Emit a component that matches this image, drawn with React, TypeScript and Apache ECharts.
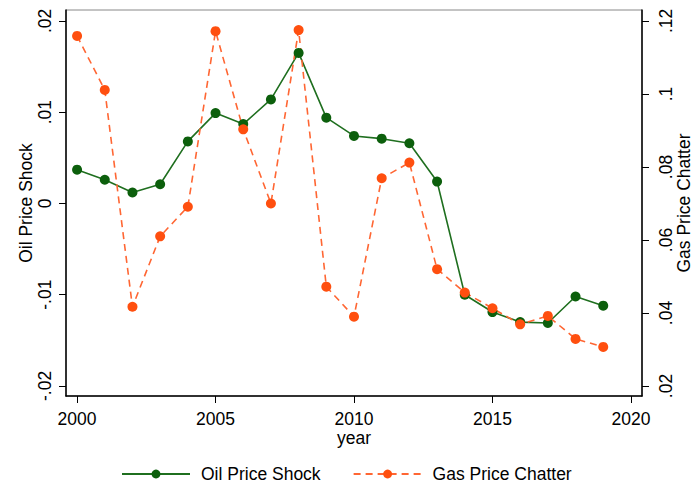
import React, { useEffect, useRef } from "react";
import * as echarts from "echarts";

const years = [2000, 2001, 2002, 2003, 2004, 2005, 2006, 2007, 2008, 2009, 2010, 2011, 2012, 2013, 2014, 2015, 2016, 2017, 2018, 2019];
const oilPriceShock = [0.0037, 0.0026, 0.0012, 0.0021, 0.0068, 0.0099, 0.0087, 0.0114, 0.0165, 0.0094, 0.0074, 0.0071, 0.0066, 0.0024, -0.0100, -0.0119, -0.0130, -0.0131, -0.0102, -0.0112];
const gasPriceChatter = [0.1159, 0.1011, 0.0417, 0.0610, 0.0691, 0.1172, 0.0903, 0.0700, 0.1175, 0.0472, 0.0390, 0.0769, 0.0812, 0.0520, 0.0456, 0.0413, 0.0369, 0.0392, 0.0329, 0.0307];
const xTicks = [2000, 2005, 2010, 2015, 2020];
const leftTicks = [-0.02, -0.01, 0, 0.01, 0.02];
const rightTicks = [0.02, 0.04, 0.06, 0.08, 0.1, 0.12];

const fmt = (v: number) => {
  const r = Math.round(v * 1000) / 1000;
  if (r === 0) return "0";
  let s = String(r);
  s = s.replace(/^0\./, ".").replace(/^-0\./, "-.");
  return s;
};

const FONT = "Liberation Sans, Arial, sans-serif";
const FS = 17.5;

export default function App() {
  const ref = useRef<HTMLDivElement>(null);
  useEffect(() => {
    document.body.style.margin = "0";
    const chart = echarts.init(ref.current!, null, { renderer: "svg" });
    const axisLine = { show: true, onZero: false, lineStyle: { color: "#000", width: 1.5 } };
    const axisTick = { show: true, length: 7, lineStyle: { color: "#000", width: 1 } };
    chart.setOption({
      animation: false,
      backgroundColor: "#fff",
      textStyle: { fontFamily: FONT },
      grid: {
        left: 66,
        right: 52,
        top: 10,
        bottom: 93,
        show: true,
        borderColor: "#888",
        borderWidth: 1,
        containLabel: false,
        outerBoundsMode: "none",
      },
      legend: {
        bottom: 1,
        left: 116,
        itemWidth: 68,
        itemHeight: 11,
        itemGap: 32,
        textStyle: { fontFamily: FONT, fontSize: FS, color: "#000", padding: [0, 0, 0, 6] },
        data: ["Oil Price Shock", "Gas Price Chatter"],
      },
      xAxis: {
        type: "value",
        min: 1999.6,
        max: 2020.4,
        name: "year",
        nameLocation: "middle",
        nameGap: 33,
        nameMoveOverlap: false,
        nameTextStyle: { fontFamily: FONT, fontSize: FS, color: "#000" },
        axisLine,
        axisTick: { ...axisTick, customValues: xTicks },
        splitLine: { show: false },
        axisLabel: {
          customValues: xTicks,
          fontFamily: FONT,
          fontSize: FS,
          color: "#000",
          margin: 14,
          formatter: (v: number) => String(v),
        },
      },
      yAxis: [
        {
          type: "value",
          position: "left",
          min: -0.0211,
          max: 0.0212,
          name: "Oil Price Shock",
          nameLocation: "middle",
          nameRotate: 90,
          nameGap: 31,
          nameMoveOverlap: false,
          nameTextStyle: { fontFamily: FONT, fontSize: FS, color: "#000" },
          axisLine,
          axisTick: { ...axisTick, customValues: leftTicks },
          splitLine: { show: false },
          axisLabel: {
            customValues: leftTicks,
            rotate: 90,
            fontFamily: FONT,
            fontSize: FS,
            color: "#000",
            margin: 12,
            formatter: fmt,
          },
        },
        {
          type: "value",
          position: "right",
          min: 0.01726,
          max: 0.123,
          name: "Gas Price Chatter",
          nameLocation: "middle",
          nameRotate: 90,
          nameGap: 33,
          nameMoveOverlap: false,
          nameTextStyle: { fontFamily: FONT, fontSize: FS, color: "#000" },
          axisLine,
          axisTick: { ...axisTick, customValues: rightTicks },
          splitLine: { show: false },
          axisLabel: {
            customValues: rightTicks,
            rotate: 90,
            fontFamily: FONT,
            fontSize: FS,
            color: "#000",
            margin: 15,
            formatter: fmt,
          },
        },
      ],
      series: [
        {
          name: "Oil Price Shock",
          type: "line",
          yAxisIndex: 0,
          data: years.map((y, i) => [y, oilPriceShock[i]]),
          symbol: "circle",
          symbolSize: 10,
          itemStyle: { color: "#0c5f0c" },
          lineStyle: { color: "#1f6f1f", width: 1.6, type: "solid" },
        },
        {
          name: "Gas Price Chatter",
          type: "line",
          yAxisIndex: 1,
          data: years.map((y, i) => [y, gasPriceChatter[i]]),
          symbol: "circle",
          symbolSize: 10,
          itemStyle: { color: "#ff4f0f" },
          lineStyle: { color: "#ff6633", width: 1.6, type: [7, 5] },
        },
      ],
    });
    return () => chart.dispose();
  }, []);
  return <div ref={ref} style={{ width: 694, height: 489 }} />;
}
